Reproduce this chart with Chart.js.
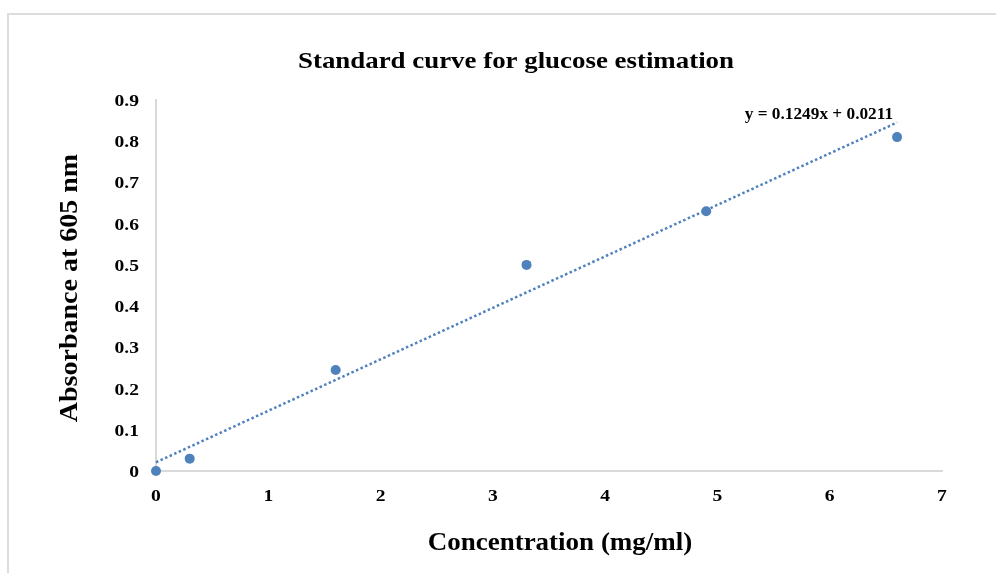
<!DOCTYPE html>
<html>
<head>
<meta charset="utf-8">
<script src="https://cdn.jsdelivr.net/npm/chart.js@4"></script>
<style>
  body { margin: 0; background: #fff; overflow: hidden; }
  #frame { position: absolute; left: 7px; top: 13px; width: 1100px; height: 700px; border: 2px solid #dcdcdc; }
  #glucoseChart { position: absolute; left: 0; top: 0; }
</style>
</head>
<body>
<div id="frame"></div>
<canvas id="glucoseChart" width="996" height="573"></canvas>
<script>
// measured standard points
const concentration = [0, 0.3, 1.6, 3.3, 4.9, 6.6];
const absorbance = [0, 0.03, 0.245, 0.5, 0.63, 0.81];

// linear trendline ends (y = 0.1249x + 0.0211)
const trendX = [0, 6.6];
const trendY = [0.0211, 0.8454];
const trendLabel = 'y = 0.1249x + 0.0211';

const xTicks = [0, 1, 2, 3, 4, 5, 6, 7];
const yTicks = [0, 0.1, 0.2, 0.3, 0.4, 0.5, 0.6, 0.7, 0.8, 0.9];

const chartTitle = 'Standard curve for glucose estimation';
const xTitle = 'Concentration (mg/ml)';
const yTitle = 'Absorbance at 605 nm';

const serif = '"Liberation Serif", "Times New Roman", serif';
const blue = '#4f81bd';

// the original text is a bit wider than Liberation Serif, so stretch it sideways
function drawText(ctx, text, x, y, size, align, stretch, rot) {
    ctx.save();
    ctx.translate(x, y);
    if (rot) ctx.rotate(rot);
    ctx.scale(stretch, 1);
    ctx.font = 'bold ' + size + 'px ' + serif;
    ctx.fillStyle = '#000';
    ctx.textAlign = align;
    ctx.textBaseline = 'alphabetic';
    ctx.fillText(text, 0, 0);
    ctx.restore();
}

const textLayer = {
    id: 'textLayer',
    afterDraw(chart) {
        const ctx = chart.ctx;
        const xs = chart.scales.x;
        const ys = chart.scales.y;

        drawText(ctx, chartTitle, 516, 68, 24, 'center', 1.12);
        drawText(ctx, xTitle, 560, 550, 25, 'center', 1.08);
        drawText(ctx, yTitle, 77, 288, 25, 'center', 1.12, -Math.PI / 2);

        xTicks.forEach(v => {
            drawText(ctx, String(v), xs.getPixelForValue(v), 501, 17, 'center', 1.15);
        });
        yTicks.forEach(v => {
            drawText(ctx, String(v), 139, ys.getPixelForValue(v) + 6, 17, 'right', 1.15);
        });

        drawText(ctx, trendLabel, xs.getPixelForValue(trendX[1]) - 4,
            ys.getPixelForValue(0.865) + 5, 16, 'right', 1.08);
    }
};

const ctx = document.getElementById('glucoseChart').getContext('2d');
const glucoseChart = new Chart(ctx, {
    type: 'scatter',
    data: {
        datasets: [{
            label: 'Absorbance',
            data: concentration.map((c, i) => ({ x: c, y: absorbance[i] })),
            backgroundColor: blue,
            borderWidth: 0,
            pointRadius: 5,
            clip: false,
            order: 1
        }, {
            type: 'line',
            label: 'Linear',
            data: trendX.map((c, i) => ({ x: c, y: trendY[i] })),
            borderColor: blue,
            borderWidth: 2.5,
            borderDash: [2.5, 2.5],
            pointRadius: 0,
            fill: false,
            clip: false,
            order: 2
        }]
    },
    options: {
        responsive: false,
        animation: false,
        layout: { padding: { left: 0, right: 54, top: 100, bottom: 0 } },
        plugins: {
            legend: { display: false },
            tooltip: { enabled: false },
            title: { display: false }
        },
        scales: {
            x: {
                type: 'linear',
                min: 0,
                max: 7,
                afterBuildTicks: (s) => { s.ticks = xTicks.map(v => ({ value: v })); },
                afterFit: (s) => { s.height = 102; },
                grid: { display: false, drawTicks: false },
                border: { display: true, color: '#d9d9d9', width: 2 },
                ticks: { display: false }
            },
            y: {
                type: 'linear',
                min: 0,
                max: 0.9,
                afterBuildTicks: (s) => { s.ticks = yTicks.map(v => ({ value: v })); },
                afterFit: (s) => { s.width = 156; },
                grid: { display: false, drawTicks: false },
                border: { display: true, color: '#d9d9d9', width: 2 },
                ticks: { display: false }
            }
        }
    },
    plugins: [textLayer]
});
</script>
</body>
</html>
